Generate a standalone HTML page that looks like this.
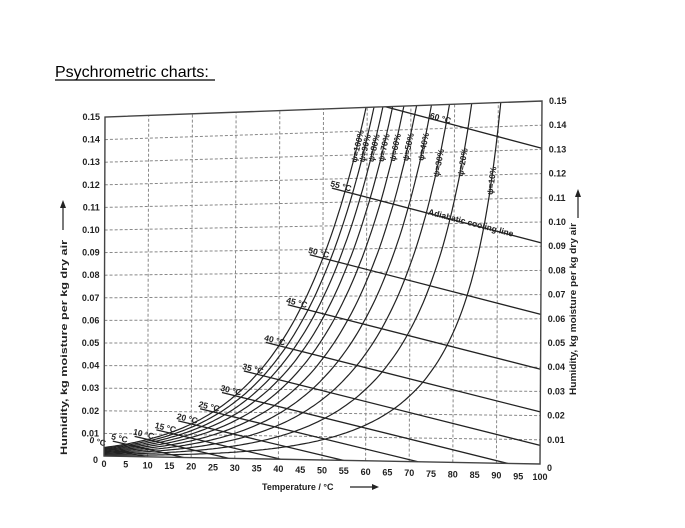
<!DOCTYPE html>
<html><head><meta charset="utf-8"><style>
html,body{margin:0;padding:0;background:#fff;}
svg{display:block;font-family:"Liberation Sans",sans-serif;}
.tk{font-size:9px;font-weight:bold;fill:#222;}
.lb{font-size:8.5px;font-weight:bold;fill:#222;}
</style></head><body>
<svg id="chart" width="685" height="528" viewBox="0 0 685 528">
<text x="55" y="77" font-size="16" fill="#000">Psychrometric charts:</text>
<line x1="55" y1="80" x2="215" y2="80" stroke="#000" stroke-width="1.3"/>
<defs><clipPath id="frameClip"><polygon points="104,456 540,464 542,101 105,117"/></clipPath></defs>
<g id="grid"></g>
<g id="curves" clip-path="url(#frameClip)"></g>
<g id="adiab" clip-path="url(#frameClip)"></g>
<g id="labels"></g>
<polygon points="104,456 540,464 542,101 105,117" fill="none" stroke="#444" stroke-width="1.4"/>
<text x="262" y="490" class="tk" font-size="9.5">Temperature / °C</text>
<g><line x1="350" y1="487" x2="372" y2="487" stroke="#222" stroke-width="1.2"/><polygon points="372,484 379,487 372,490" fill="#222"/></g>
<text transform="translate(67,455) rotate(-90)" class="tk" font-size="10" textLength="215" lengthAdjust="spacingAndGlyphs">Humidity, kg moisture per kg dry air</text>
<g><line x1="63" y1="230" x2="63" y2="208" stroke="#222" stroke-width="1.2"/><polygon points="60,208 63,200 66,208" fill="#222"/></g>
<text transform="translate(576,395) rotate(-90)" class="tk" font-size="10.5" textLength="172" lengthAdjust="spacingAndGlyphs">Humidity, kg moisture per kg dry air</text>
<g><line x1="578" y1="218" x2="578" y2="197" stroke="#222" stroke-width="1.2"/><polygon points="575,197 578,189 581,197" fill="#222"/></g>
</svg>
<script>
// data
const satTemps=[0,5,10,15,20,25,30,35,40,45,50,55,60,65,70,75,80,85,90,95];
const satPressure=[0.611,0.872,1.228,1.705,2.339,3.169,4.246,5.628,7.384,9.593,12.35,15.76,19.94,25.03,31.18,38.58,47.39,57.83,70.14,84.55];
const psiValues=[100,90,80,70,60,50,40,30,20,10];
const adiabaticTemps=[0,5,10,15,20,25,30,35,40,45,50,55,60];
const xTicks=[0,5,10,15,20,25,30,35,40,45,50,55,60,65,70,75,80,85,90,95,100];
const yTicks=[0,0.01,0.02,0.03,0.04,0.05,0.06,0.07,0.08,0.09,0.10,0.11,0.12,0.13,0.14,0.15];
const BL=[104,456],BR=[540,464],TL=[105,117],TR=[542,101];
const NS='http://www.w3.org/2000/svg';
function P(t,h){const u=t/100,v=h/0.15;
 return [(1-u)*(1-v)*BL[0]+u*(1-v)*BR[0]+(1-u)*v*TL[0]+u*v*TR[0],
         (1-u)*(1-v)*BL[1]+u*(1-v)*BR[1]+(1-u)*v*TL[1]+u*v*TR[1]];}
function ps(t){let i=Math.min(Math.floor(t/5),satTemps.length-2);const f=(t-satTemps[i])/5;
 return Math.exp(Math.log(satPressure[i])*(1-f)+Math.log(satPressure[i+1])*f);}
function Hs(t){const p=ps(t);return 0.622*p/(101.325-p);}
function mk(tag,attrs,parent){const e=document.createElementNS(NS,tag);for(const k in attrs)e.setAttribute(k,attrs[k]);parent.appendChild(e);return e;}
const grid=document.getElementById('grid'),cur=document.getElementById('curves'),ad=document.getElementById('adiab'),lab=document.getElementById('labels');
// grid
for(let t=10;t<100;t+=10){const a=P(t,0),b=P(t,0.15);
 const l=mk('line',{x1:a[0],y1:a[1],x2:b[0],y2:b[1],stroke:'#888','stroke-width':1,'stroke-dasharray':'3,2'},grid);
 
 }
for(let i=1;i<yTicks.length-1;i++){const a=P(0,yTicks[i]),b=P(100,yTicks[i]);
 const l=mk('line',{x1:a[0],y1:a[1],x2:b[0],y2:b[1],stroke:'#888','stroke-width':1,'stroke-dasharray':'3,2'},grid);
 
 }
// ticks
xTicks.forEach(t=>{const p=P(t,0);const e=mk('text',{x:p[0],y:p[1]+11+t*0.05,'text-anchor':'middle',class:'tk'},lab);e.textContent=String(t);
 
 });
yTicks.forEach(h=>{const p=P(0,h);const s=h===0?'0':h.toFixed(2);
 const e=mk('text',{x:p[0]-(h===0?6:5),y:p[1]+(h===0?7:3),'text-anchor':'end',class:'tk'},lab);e.textContent=s;
 
 
 const q=P(100,h);const e2=mk('text',{x:q[0]+7,y:q[1]+(h===0?7:3),class:'tk'},lab);e2.textContent=s;
 
 });
// saturation curves
psiValues.forEach(psi=>{let d='';
 for(let t=0;t<=95;t+=0.5){const h=psi/100*Hs(t);const p=P(t,Math.min(h,0.2));d+=(d?'L':'M')+p[0].toFixed(1)+','+p[1].toFixed(1);if(h>0.2)break;}
 const e=mk('path',{d:d,fill:'none',stroke:'#222','stroke-width':1.2},cur);
 
 
 // label
 let t=0;const hl=psi===10?0.112:(psi<=30?0.12:0.127);while(psi/100*Hs(t)<hl)t+=0.1;
 const a=P(t,hl),b=P(t+1,psi/100*Hs(t+1));let ang=Math.atan2(b[1]-a[1],b[0]-a[0])*180/Math.PI;
 if(ang>0)ang-=180;
 const tx=mk('text',{transform:'translate('+(a[0]+3)+','+(a[1]+1)+') rotate('+ang.toFixed(1)+')',class:'lb','font-size':'11'},lab);
 tx.textContent='ψ='+psi+'%';
 
 });
// adiabatic lines
adiabaticTemps.forEach(ts=>{const h0=Hs(ts);const k=(1.005+1.88*h0)/(2501-2.4*ts);
 const t0=ts-3,hs=h0+k*3;let t1=ts+h0/k,h1=0;if(t1>100){t1=100;h1=h0-k*(100-ts);}
 const a=P(t0,hs),b=P(t1,h1);
 const e=mk('line',{x1:a[0],y1:a[1],x2:b[0],y2:b[1],stroke:'#222','stroke-width':1.3},ad);
 
 
 const ang=Math.atan2(b[1]-a[1],b[0]-a[0])*180/Math.PI;
 let lx=a[0]-2,ly=a[1]-2;if(ts===60){const c=P(ts+17,h0-k*17);lx=c[0]-12;ly=c[1]-3;}
 const tx=mk('text',{transform:'translate('+lx+','+ly+') rotate('+ang.toFixed(1)+')',class:'lb','font-size':ts<15?'7':'8.5'},lab);
 tx.textContent=ts+' °C';
 
 
 if(ts===55){const c=P(ts+24,h0-k*24);
  const t2=mk('text',{transform:'translate('+(c[0]-22)+','+(c[1]-4)+') rotate('+ang.toFixed(1)+')',class:'lb','font-size':'9.5'},lab);
  t2.textContent='Adiabatic cooling line';
  
  }
});
</script>
</body></html>
